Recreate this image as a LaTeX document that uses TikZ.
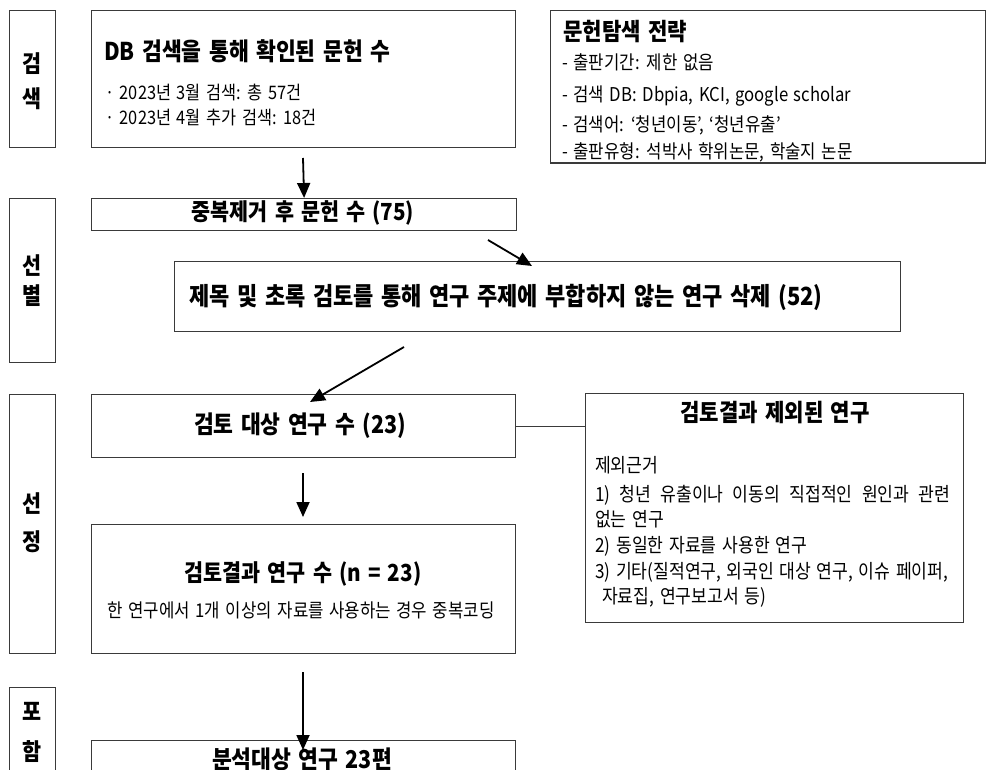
\documentclass[tikz,border=0pt]{standalone}
\usepackage{fontspec}
\setmainfont{Noto Sans CJK KR}[FakeStretch=0.88, WordSpace=1.5]
\usetikzlibrary{arrows.meta}
\definecolor{boxgray}{HTML}{3A3A3A}
\begin{document}
\begin{tikzpicture}[x=1pt,y=-1pt,
  box/.style={draw=boxgray, line width=1.2pt, inner sep=0pt, anchor=north west, fill=none},
  txt/.style={inner sep=0pt},
  arr/.style={line width=1.8pt, -{Triangle[length=15pt,width=13pt]}},
  conn/.style={draw=boxgray, line width=1.1pt},
  fs/.style={font=\fontsize{#1}{#1}\selectfont, text height=0.8*#1pt, text depth=0.12*#1pt},
  fb/.style={font=\fontsize{#1}{#1}\selectfont\bfseries, text height=0.8*#1pt, text depth=0.12*#1pt},
]
\clip (0,0) rectangle (986,770);
\fill[white] (0,0) rectangle (986,770);

% ---------- boxes ----------
\node[box, minimum width=46, minimum height=137] (lab1) at (9,10) {};
\node[box, minimum width=424, minimum height=137] (db) at (91,10) {};
\node[box, minimum width=435, minimum height=152] (strat) at (550,10) {};
\node[box, minimum width=46, minimum height=164] (lab2) at (9,198) {};
\node[box, minimum width=425, minimum height=32] (dedup) at (91,198) {};
\node[box, minimum width=726, minimum height=70] (scr) at (174,261) {};
\node[box, minimum width=46, minimum height=259] (lab3) at (9,394) {};
\node[box, minimum width=424, minimum height=63] (rev) at (91,394) {};
\node[box, minimum width=424, minimum height=129] (res) at (91,524) {};
\node[box, minimum width=378, minimum height=229] (excl) at (585,393) {};
\node[box, minimum width=46, minimum height=110] (lab4) at (9,687) {};
\node[box, minimum width=424, minimum height=60] (fin) at (91,740) {};

% ---------- stage labels ----------
\node[txt, fb=23.5] (l1a) at (32,65) {검};
\node[txt, fb=23.5] (l1b) at (32,100) {색};
\node[txt, fb=23.5] (l2a) at (32,267) {선};
\node[txt, fb=23.5] (l2b) at (32,297) {별};
\node[txt, fb=23.5] (l3a) at (32,505) {선};
\node[txt, fb=23.5] (l3b) at (32,543) {정};
\node[txt, fb=23.5] (l4a) at (32,713) {포};
\node[txt, fb=23.5] (l4b) at (32,753) {함};

% ---------- DB box ----------
\node[txt, fb=24.5, anchor=west] (dbt) at (104,52) {DB 검색을 통해 확인된 문헌 수};
\node[txt, fs=18.6, anchor=west] (db1) at (105,93) {· 2023년 3월 검색: 총 57건};
\node[txt, fs=18.6, anchor=west] (db2) at (105,118) {· 2023년 4월 추가 검색: 18건};

% ---------- strategy box ----------
\node[txt, fb=24, anchor=west] (st) at (563,32) {문헌탐색 전략};
\node[txt, fs=19, anchor=west] (st1) at (562,63) {- 출판기간: 제한 없음};
\node[txt, fs=19, anchor=west] (st2) at (562,95) {- 검색 DB: Dbpia, KCI, google scholar};
\node[txt, fs=19, anchor=west] (st3) at (562,125) {- 검색어: ‘청년이동’, ‘청년유출’};
\node[txt, fs=19, anchor=west] (st4) at (562,152) {- 출판유형: 석박사 학위논문, 학술지 논문};
\draw[conn] (strat.south west) -- (strat.south east);

% ---------- screening ----------
\node[txt, fb=23.5] (dt) at (303,213) {중복제거 후 문헌 수 (75)};
\node[txt, fb=25, anchor=west] (sct) at (189,297) {제목 및 초록 검토를 통해 연구 주제에 부합하지 않는 연구 삭제 (52)};

% ---------- selection ----------
\node[txt, fb=24.5] (rt) at (300,425) {검토 대상 연구 수 (23)};
\node[txt, fb=23.5] (rst) at (303,574) {검토결과 연구 수 (n = 23)};
\node[txt, fs=19] (rss) at (301,611) {한 연구에서 1개 이상의 자료를 사용하는 경우 중복코딩};

% ---------- excluded ----------
\node[txt, fb=24] (ext) at (775,413) {검토결과 제외된 연구};
\node[txt, fs=19.5, anchor=west] (ex1) at (595,466) {제외근거};
\node[txt, fs=19.5, anchor=west] (ex2) at (595,495) {\makebox[355pt][s]{1) 청년 유출이나 이동의 직접적인 원인과 관련}};
\node[txt, fs=19.5, anchor=west] (ex3) at (595,520) {없는 연구};
\node[txt, fs=19.5, anchor=west] (ex4) at (595,546) {2) 동일한 자료를 사용한 연구};
\node[txt, fs=19.5, anchor=west] (ex5) at (595,572) {\makebox[353pt][s]{3) 기타(질적연구, 외국인 대상 연구, 이슈 페이퍼,}};
\node[txt, fs=19.5, anchor=west] (ex6) at (602,597) {자료집, 연구보고서 등)};

% ---------- inclusion ----------
\node[txt, fb=24.5] (ft) at (302,760) {분석대상 연구 23편};

% ---------- connectors ----------
\coordinate (a1s) at (303,158);
\coordinate (a2s) at (488,240);
\coordinate (a2e) at (532,266);
\coordinate (a3s) at (404,347);
\coordinate (a3e) at (310,402);
\coordinate (a4s) at (303,473);
\coordinate (a4e) at (303,517);
\coordinate (a5s) at (303,672);
\coordinate (a5e) at (303,750);

\draw[arr] (a1s) -- (dedup.north);
\draw[arr] (a2s) -- (a2e);
\draw[arr] (a3s) -- (a3e);
\draw[arr] (a4s) -- (a4e);
\draw[arr] (a5s) -- (a5e);
\draw[conn] (rev.east) -- (rev.east -| excl.west);
\end{tikzpicture}
\end{document}
